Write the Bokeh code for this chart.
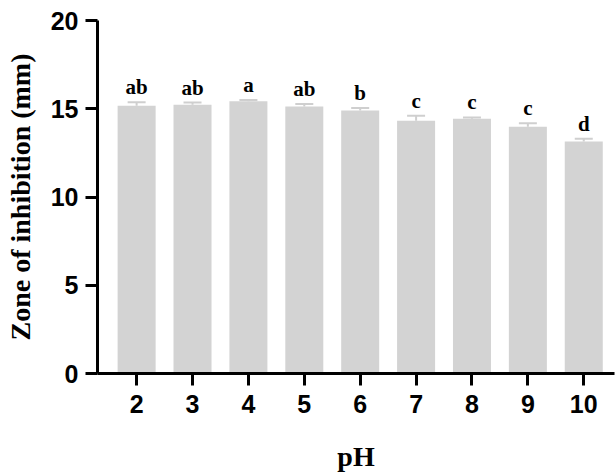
from bokeh.plotting import figure
from bokeh.models import Range1d, FixedTicker, ColumnDataSource, Whisker, TeeHead
from bokeh.core.properties import value
from bokeh.embed import file_html
from bokeh.resources import INLINE

ph = [2, 3, 4, 5, 6, 7, 8, 9, 10]
means = [15.17, 15.23, 15.42, 15.13, 14.90, 14.32, 14.43, 13.98, 13.14]
errors = [0.20, 0.12, 0.08, 0.14, 0.14, 0.28, 0.08, 0.20, 0.16]
letters = ["ab", "ab", "a", "ab", "b", "c", "c", "c", "d"]
y_ticks = [0, 5, 10, 15, 20]

upper = [m + e for m, e in zip(means, errors)]
src = ColumnDataSource(dict(x=ph, top=means, upper=upper, lab=letters))

p = figure(width=615, height=474, output_backend="svg", toolbar_location=None,
           x_range=Range1d(1.3, 10.55), y_range=Range1d(0, 20),
           min_border_left=97, min_border_right=1, min_border_top=20, min_border_bottom=101)
p.outline_line_color = None
p.xgrid.grid_line_color = None
p.ygrid.grid_line_color = None
p.background_fill_color = "white"
p.border_fill_color = "white"

bar_color = "#d3d3d3"
err_color = "#cfcfcf"
p.vbar(x="x", top="top", bottom=0, width=0.68, source=src, fill_color=bar_color, line_color=None)
p.segment(x0="x", y0="top", x1="x", y1="upper", source=src, line_color=err_color, line_width=2)
w = Whisker(base="x", upper="upper", lower="upper", source=src, line_color=err_color, line_width=2,
            upper_head=TeeHead(size=18, line_color=err_color, line_width=2), lower_head=None)
p.add_layout(w)

p.text(x="x", y="upper", text="lab", source=src, text_align="center", text_baseline="bottom",
       y_offset=-3, text_font=value("Liberation Serif"), text_font_style="bold",
       text_font_size="21px", text_color="black")

for ax in (p.xaxis[0], p.yaxis[0]):
    ax.axis_line_width = 3
    ax.major_tick_line_width = 3
    ax.major_tick_out = 12
    ax.major_tick_in = 0
    ax.minor_tick_line_color = None
    ax.major_label_text_font = "Liberation Sans"
    ax.major_label_text_font_style = "bold"
    ax.major_label_text_font_size = "25px"
    ax.major_label_text_color = "black"
    ax.axis_label_text_font = "Liberation Serif"
    ax.axis_label_text_font_style = "bold"
    ax.axis_label_text_font_size = "28px"
    ax.axis_label_text_color = "black"

p.xaxis.ticker = FixedTicker(ticks=ph)
p.xaxis.major_label_overrides = {v: str(v) for v in ph}
p.xaxis.major_label_standoff = 9
p.xaxis.axis_label = "pH"
p.xaxis.axis_label_standoff = 25

p.yaxis.ticker = FixedTicker(ticks=y_ticks)
p.yaxis.major_label_standoff = 7
p.yaxis.axis_label = "Zone of inhibition (mm)"
p.yaxis.axis_label_standoff = 12

open("out.html", "w").write(file_html(p, INLINE))
